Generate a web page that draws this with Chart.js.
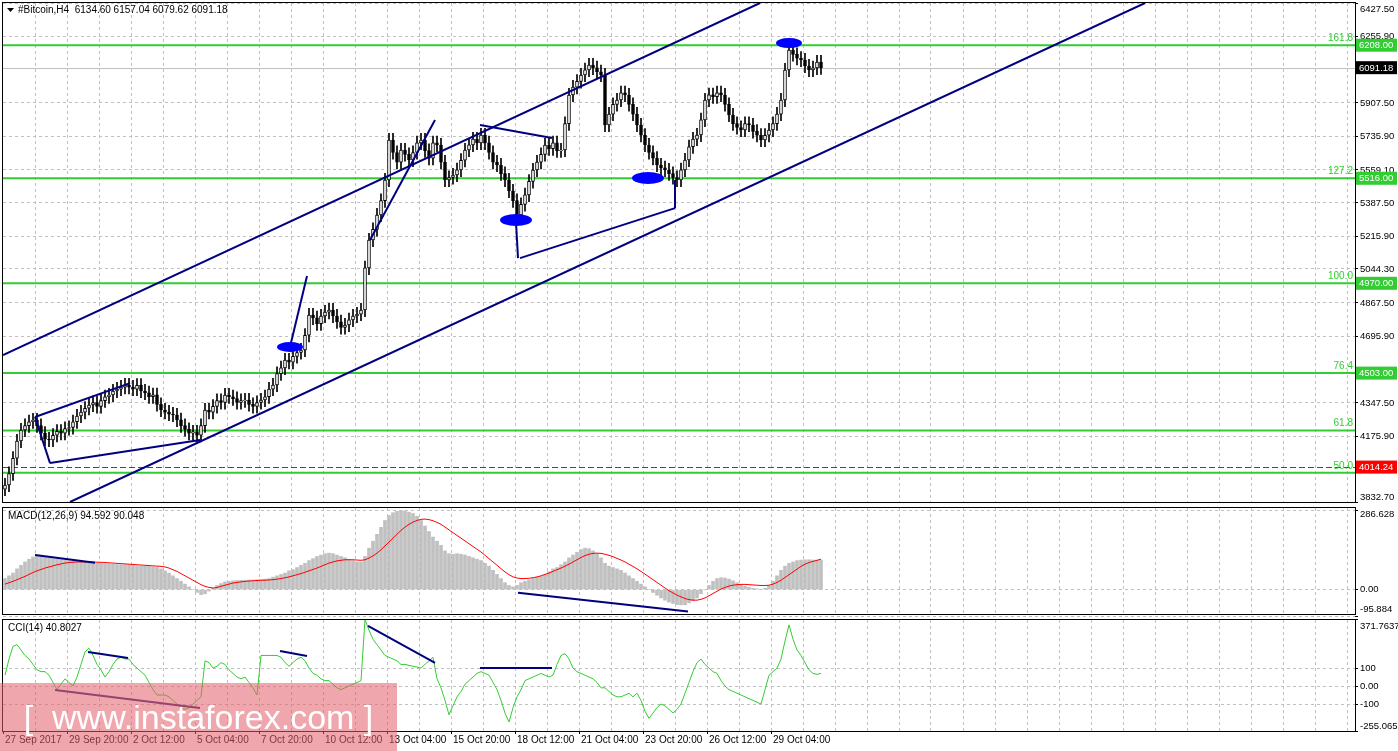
<!DOCTYPE html>
<html>
<head>
<meta charset="utf-8">
<script src="https://cdn.jsdelivr.net/npm/chart.js@4.4.1/dist/chart.umd.min.js"></script>
<style>
  body { margin:0; background:#fff; width:1398px; height:751px; overflow:hidden; position:relative; font-family:"Liberation Sans", Arial, sans-serif; }
  canvas { position:absolute; left:0; }
  #wm { position:absolute; left:0; top:683px; width:397px; height:68px; background:rgba(225,95,105,0.55); color:#fff; font-size:34px; line-height:68px; text-align:center; }
</style>
</head>
<body>
<canvas id="priceChart" width="1398" height="505" style="top:0;width:1398px;height:505px"></canvas>
<canvas id="macdChart" width="1398" height="112" style="top:505px;width:1398px;height:112px"></canvas>
<canvas id="cciChart" width="1398" height="134" style="top:617px;width:1398px;height:134px"></canvas>
<div id="wm">[&nbsp;&nbsp;www.instaforex.com&nbsp;]</div>
<script>
// closes of the H4 bars, 27 Sep 2017 -> 29 Oct 2017
var closes = [
3921,3980,4060,4150,4207,4230,4250,4259,4230,4190,
4160,4155,4180,4200,4190,4215,4220,4250,4280,4300,
4320,4337,4350,4330,4360,4380,4389,4410,4420,4430,
4441,4430,4420,4440,4410,4400,4380,4390,4340,4311,
4300,4290,4285,4260,4230,4210,4190,4197,4180,4230,
4311,4300,4330,4360,4350,4389,4380,4370,4350,4360,
4363,4340,4330,4350,4363,4380,4420,4441,4500,4530,
4571,4560,4590,4610,4623,4700,4805,4790,4760,4800,
4820,4831,4800,4770,4740,4753,4780,4800,4810,4831,
5050,5195,5250,5325,5400,5507,5715,5650,5600,5663,
5640,5611,5650,5700,5715,5660,5620,5700,5689,5600,
5507,5520,5533,5560,5610,5663,5690,5720,5700,5741,
5700,5650,5600,5585,5540,5507,5450,5400,5325,5380,
5430,5500,5559,5600,5640,5689,5670,5700,5660,5663,
5800,5949,5990,6020,6053,6080,6105,6090,6070,6053,
5793,5850,5900,5923,5960,5949,5900,5850,5793,5740,
5689,5650,5620,5585,5570,5559,5540,5520,5507,5560,
5611,5680,5720,5741,5820,5923,5950,5940,5960,5949,
5900,5845,5800,5780,5767,5800,5793,5760,5740,5715,
5740,5767,5800,5850,5923,6079,6183,6160,6140,6131,
6100,6079,6090,6120,6091];

var macdHist = [
40,50,60,75,88,100,110,118,120,122,
118,115,112,110,108,106,104,102,100,100,
98,97,96,95,95,94,93,92,91,90,
90,89,88,86,85,85,84,82,80,75,
68,60,50,40,30,20,10,0,-10,-18,
-15,-5,5,15,22,28,30,32,33,34,
34,35,35,36,36,38,40,45,50,55,
60,68,72,80,88,95,105,112,120,125,
130,132,130,125,120,115,110,105,100,100,
120,150,175,200,225,250,268,278,283,285,
285,280,275,265,250,230,210,190,175,160,
140,130,128,130,128,125,120,115,110,105,
95,85,70,55,40,25,15,10,15,25,
30,35,40,45,48,55,65,75,80,90,
100,115,125,135,145,150,148,140,130,115,
95,85,80,75,70,60,50,40,30,20,
10,0,-10,-20,-30,-38,-45,-50,-54,-55,
-55,-48,-40,-30,-15,0,15,30,40,43,
42,38,32,25,18,12,8,5,3,0,
5,15,30,50,70,85,95,100,105,107,
108,108,107,107,107];

var macdSignal = [
20,25,30,36,42,48,55,62,68,73,
78,82,86,90,93,96,98,99,100,100,
100,100,100,99,99,98,97,96,95,94,
93,92,91,90,89,88,87,86,85,84,
82,78,72,66,58,50,42,34,26,18,
12,8,6,8,12,16,20,24,26,28,
30,31,32,33,34,34,35,36,38,40,
43,46,50,54,58,63,68,73,78,84,
90,96,100,104,106,108,108,108,107,106,
108,114,122,132,144,158,172,186,200,214,
226,236,244,250,254,255,253,249,243,236,
226,216,206,196,186,176,166,156,146,136,
124,112,100,88,76,64,54,46,42,40,
40,41,43,46,50,55,60,66,72,78,
85,92,100,108,116,123,128,131,132,131,
128,124,119,113,107,100,92,84,75,66,
56,46,36,26,16,6,-4,-12,-20,-26,
-32,-36,-38,-38,-35,-30,-22,-14,-6,2,
8,13,16,18,19,19,18,17,16,15,
15,16,20,26,34,44,54,64,74,84,
92,98,102,106,110];

var cci = [
60,150,220,230,200,170,150,120,90,80,
80,60,20,-20,10,40,20,0,50,120,
190,210,170,120,90,50,80,120,150,160,
150,150,120,100,80,60,20,-20,-50,-50,
-50,-60,-80,-100,-120,-130,-120,-100,-80,-60,
140,130,100,110,130,120,90,70,50,40,
50,20,-10,-50,170,170,170,170,170,160,
130,110,130,150,160,140,100,70,60,40,
30,30,10,-10,-20,-10,0,10,20,30,
370,310,260,230,200,170,160,150,140,120,
120,115,110,105,100,120,140,160,40,-10,
-80,-160,-110,-60,-30,10,30,50,70,80,
70,60,20,-20,-80,-150,-200,-120,-60,-20,
30,40,50,60,70,60,50,60,120,170,
180,150,100,80,70,60,50,40,20,-10,
-10,-30,-50,-60,-60,-50,-40,-60,-40,-80,
-140,-180,-150,-120,-100,-110,-130,-150,-130,-100,
-40,20,80,130,150,120,100,80,70,30,
0,-20,-30,-40,-50,-60,-70,-80,-90,-100,
-20,60,80,100,150,250,340,260,200,170,
130,90,70,65,70];

var priceTicks = [6427.50,6255.90,5907.50,5735.90,5559.10,5387.50,5215.90,5044.30,4867.50,4695.90,4347.50,4175.90,3832.70];
var fibLevels = [6208.00,5516.00,4970.00,4503.00,4205.00,3985.00];
var fibNames = ["161.8","127.2","100.0","76.4","61.8","50.0"];
var lastPrice = 6091.18;
var stopPrice = 4014.24;
var macdTicks = [286.628, 0.00, -95.884];
var cciTicks = [371.7637, 100, 0.00, -100, -255.0655];
var xLabels = ["27 Sep 2017","29 Sep 20:00","2 Oct 12:00","5 Oct 04:00","7 Oct 20:00","10 Oct 12:00","13 Oct 04:00","15 Oct 20:00","18 Oct 12:00","21 Oct 04:00","23 Oct 20:00","26 Oct 12:00","29 Oct 04:00"];

var NAVY = '#000080', GREEN = '#32cd32';
var FONT = '10px "Liberation Sans", Arial, sans-serif';
var YFONT = '9.5px "Liberation Sans", Arial, sans-serif';
var X_MIN = -0.5, X_MAX = 337.5;

var bodies = [], wicks = [];
closes.forEach(function (c, i) {
    var o = i === 0 ? 3900 : closes[i - 1];
    bodies.push({ x: i, y: [o, c] });
    wicks.push({ x: i, y: [Math.min(o, c) - 35, Math.max(o, c) + 35] });
});

function xScaleCfg(bottom) {
    return {
        type: 'linear', min: X_MIN, max: X_MAX, offset: false,
        afterBuildTicks: function (s) { var t = []; for (var v = 7.5; v < X_MAX; v += 8) t.push({ value: v }); s.ticks = t; },
        afterFit: function (s) { s.height = bottom ? 20 : 0; },
        ticks: { display: false },
        grid: { color: '#c0c0c0', drawTicks: false, offset: false },
        border: { display: false, dash: [3, 3] }
    };
}
function yScaleCfg(min, max, ticks) {
    return {
        position: 'right', min: min, max: max,
        afterBuildTicks: function (s) { s.ticks = ticks.map(function (v) { return { value: v }; }); },
        afterFit: function (s) { s.width = 43; },
        ticks: { display: false },
        grid: { color: '#c0c0c0', drawTicks: true, tickLength: 3, tickColor: '#000' },
        border: { display: false, dash: [3, 3] }
    };
}

// right-hand value labels, kept inside the panel like the terminal does
function yLabels(chart, ticks, fmt) {
    var ctx = chart.ctx, a = chart.chartArea, ys = chart.scales.y;
    ctx.save();
    ctx.font = YFONT; ctx.fillStyle = '#000'; ctx.textBaseline = 'middle';
    ticks.forEach(function (v) {
        var y = ys.getPixelForValue(v);
        y = Math.max(a.top + 6, Math.min(a.bottom - 5, y));
        ctx.fillText(fmt(v), a.right + 5, y);
    });
    ctx.restore();
}

function seg(chart, a, b, color, w) {
    var ctx = chart.ctx, xs = chart.scales.x, ys = chart.scales.y;
    ctx.save();
    ctx.beginPath();
    ctx.rect(chart.chartArea.left, chart.chartArea.top, chart.chartArea.right - chart.chartArea.left, chart.chartArea.bottom - chart.chartArea.top);
    ctx.clip();
    ctx.strokeStyle = color; ctx.lineWidth = w || 2;
    ctx.beginPath();
    ctx.moveTo(xs.getPixelForValue(a[0]), ys.getPixelForValue(a[1]));
    ctx.lineTo(xs.getPixelForValue(b[0]), ys.getPixelForValue(b[1]));
    ctx.stroke();
    ctx.restore();
}
function frame(chart, title) {
    var ctx = chart.ctx, a = chart.chartArea;
    ctx.save();
    ctx.strokeStyle = '#000'; ctx.lineWidth = 1;
    ctx.strokeRect(a.left - 0.5, a.top - 0.5, a.right - a.left + 1, a.bottom - a.top + 1);
    ctx.font = FONT; ctx.fillStyle = '#000'; ctx.textBaseline = 'middle';
    ctx.fillText(title, a.left + 5, a.top + 8);
    ctx.restore();
}
function tagBox(chart, v, text, bg) {
    var ctx = chart.ctx, y = chart.scales.y.getPixelForValue(v), x = chart.chartArea.right + 1;
    ctx.save();
    ctx.fillStyle = bg; ctx.fillRect(x, y - 6.5, 41, 13);
    ctx.fillStyle = '#fff'; ctx.font = YFONT; ctx.textBaseline = 'middle';
    ctx.fillText(text, x + 3, y + 0.5);
    ctx.restore();
}

var pricePlugin = {
    id: 'pricePlugin',
    beforeDatasetsDraw: function (chart) {
        var ctx = chart.ctx, a = chart.chartArea, ys = chart.scales.y;
        ctx.save();
        var yp = Math.round(ys.getPixelForValue(lastPrice)) + 0.5;
        ctx.strokeStyle = '#c0c0c0'; ctx.lineWidth = 1;
        ctx.beginPath(); ctx.moveTo(a.left, yp); ctx.lineTo(a.right, yp); ctx.stroke();
        var yr = Math.round(ys.getPixelForValue(stopPrice)) + 0.5;
        ctx.strokeStyle = '#ff0000'; ctx.setLineDash([6, 3]);
        ctx.beginPath(); ctx.moveTo(a.left, yr); ctx.lineTo(a.right, yr); ctx.stroke();
        ctx.setLineDash([]);
        ctx.strokeStyle = GREEN; ctx.lineWidth = 2;
        ctx.font = FONT; ctx.fillStyle = GREEN; ctx.textAlign = 'right';
        fibLevels.forEach(function (v, k) {
            var y = ys.getPixelForValue(v);
            ctx.beginPath(); ctx.moveTo(a.left, y); ctx.lineTo(a.right, y); ctx.stroke();
            ctx.fillText(fibNames[k], a.right - 2, y - 4);
        });
        ctx.restore();
    },
    afterDraw: function (chart) {
        seg(chart, [-0.5, 4597], [188.75, 6427.5], NAVY);
        seg(chart, [16.25, 3832.7], [285, 6427.5], NAVY);
        seg(chart, [7.5, 4275], [31.25, 4451], NAVY);
        seg(chart, [11.25, 4035], [48.75, 4155], NAVY);
        seg(chart, [7.5, 4275], [11.25, 4035], NAVY);
        seg(chart, [71.25, 4639], [75.5, 5008], NAVY);
        seg(chart, [91.25, 5195], [107.5, 5819], NAVY);
        seg(chart, [118.75, 5793], [136.75, 5725], NAVY);
        seg(chart, [128.75, 5101], [167.5, 5361], NAVY);
        seg(chart, [167.5, 5361], [167.5, 5507], NAVY);
        seg(chart, [128.25, 5101], [127.75, 5289], NAVY);
        var ctx = chart.ctx, xs = chart.scales.x, ys = chart.scales.y;
        ctx.save();
        ctx.fillStyle = '#0000ff';
        [[71.25, 4639, 13, 5], [127.75, 5299, 16, 6], [160.75, 5517, 16, 6], [196, 6219, 13, 5]].forEach(function (e) {
            ctx.beginPath();
            ctx.ellipse(xs.getPixelForValue(e[0]), ys.getPixelForValue(e[1]), e[2], e[3], 0, 0, Math.PI * 2);
            ctx.fill();
        });
        ctx.restore();
        frame(chart, '');
        var a = chart.chartArea;
        ctx.save();
        ctx.font = FONT; ctx.fillStyle = '#000'; ctx.textBaseline = 'middle';
        ctx.beginPath(); ctx.moveTo(a.left + 4, a.top + 5); ctx.lineTo(a.left + 11, a.top + 5); ctx.lineTo(a.left + 7.5, a.top + 9); ctx.closePath(); ctx.fill();
        ctx.fillText('#Bitcoin,H4  6134.60 6157.04 6079.62 6091.18', a.left + 15, a.top + 7);
        ctx.restore();
        yLabels(chart, priceTicks, function (v) { return v.toFixed(2); });
        tagBox(chart, 6208, '6208.00', GREEN);
        tagBox(chart, 5516, '5516.00', GREEN);
        tagBox(chart, 4970, '4970.00', GREEN);
        tagBox(chart, 4503, '4503.00', GREEN);
        tagBox(chart, lastPrice, '6091.18', '#000');
        tagBox(chart, stopPrice, '4014.24', '#ff0000');
    }
};

new Chart(document.getElementById('priceChart'), {
    type: 'bar',
    data: {
        datasets: [
            {
                data: bodies, grouped: false, barThickness: 3, borderWidth: 1, borderColor: '#000', borderSkipped: false,
                backgroundColor: function (c) { var d = c.raw; return d && d.y[1] >= d.y[0] ? '#fff' : '#000'; }
            },
            { data: wicks, grouped: false, barThickness: 1, backgroundColor: '#000', borderWidth: 0 }
        ]
    },
    options: {
        responsive: false, animation: false, events: [], devicePixelRatio: 1,
        layout: { padding: { top: 3, bottom: 3, left: 3 } },
        plugins: { legend: { display: false }, tooltip: { enabled: false } },
        scales: { x: xScaleCfg(false), y: yScaleCfg(3832.7, 6427.5, priceTicks) }
    },
    plugins: [pricePlugin]
});

new Chart(document.getElementById('macdChart'), {
    type: 'bar',
    data: {
        datasets: [
            { type: 'line', data: macdSignal.map(function (v, i) { return { x: i, y: v }; }), borderColor: '#ff0000', borderWidth: 1, pointRadius: 0, tension: 0 },
            { data: macdHist.map(function (v, i) { return { x: i, y: v }; }), barThickness: 3, backgroundColor: '#c0c0c0', borderWidth: 0 }
        ]
    },
    options: {
        responsive: false, animation: false, events: [], devicePixelRatio: 1,
        layout: { padding: { top: 3, bottom: 3, left: 3 } },
        plugins: { legend: { display: false }, tooltip: { enabled: false } },
        scales: { x: xScaleCfg(false), y: yScaleCfg(-88, 295, macdTicks) }
    },
    plugins: [{
        id: 'macdPlugin',
        afterDraw: function (chart) {
            seg(chart, [7.5, 125], [22.5, 97], NAVY);
            seg(chart, [128.25, -11], [170.75, -79], NAVY);
            frame(chart, 'MACD(12,26,9) 94.592 90.048');
            yLabels(chart, macdTicks, function (v) { return v.toFixed(v === 0 ? 2 : 3); });
        }
    }]
});

new Chart(document.getElementById('cciChart'), {
    type: 'line',
    data: {
        datasets: [
            { data: cci.map(function (v, i) { return { x: i, y: v }; }), borderColor: '#32cd32', borderWidth: 1, pointRadius: 0, tension: 0 }
        ]
    },
    options: {
        responsive: false, animation: false, events: [], devicePixelRatio: 1,
        layout: { padding: { top: 3, bottom: 0, left: 3 } },
        plugins: { legend: { display: false }, tooltip: { enabled: false } },
        scales: { x: xScaleCfg(true), y: yScaleCfg(-250, 367, cciTicks) }
    },
    plugins: [{
        id: 'cciPlugin',
        afterDraw: function (chart) {
            seg(chart, [12.5, -22], [48.75, -122], '#3c1f7a');
            seg(chart, [20.75, 189], [30.75, 156], NAVY);
            seg(chart, [68.75, 195], [75.5, 167], NAVY);
            seg(chart, [90.75, 334], [107.5, 128], NAVY);
            seg(chart, [118.75, 100], [136.75, 100], NAVY);
            frame(chart, 'CCI(14) 40.8027');
            yLabels(chart, cciTicks, function (v) {
                if (v === 100 || v === -100) return String(v);
                if (v === 0) return '0.00';
                return v.toFixed(4);
            });
            var ctx = chart.ctx, xs = chart.scales.x, a = chart.chartArea;
            ctx.save();
            ctx.font = FONT; ctx.fillStyle = '#000'; ctx.textBaseline = 'middle';
            xLabels.forEach(function (t, k) {
                var x = xs.getPixelForValue(k * 16 - 0.5);
                ctx.fillRect(x, a.bottom, 1, 3);
                ctx.fillText(t, x + 2, a.bottom + 9);
            });
            ctx.restore();
        }
    }]
});
</script>
</body>
</html>
